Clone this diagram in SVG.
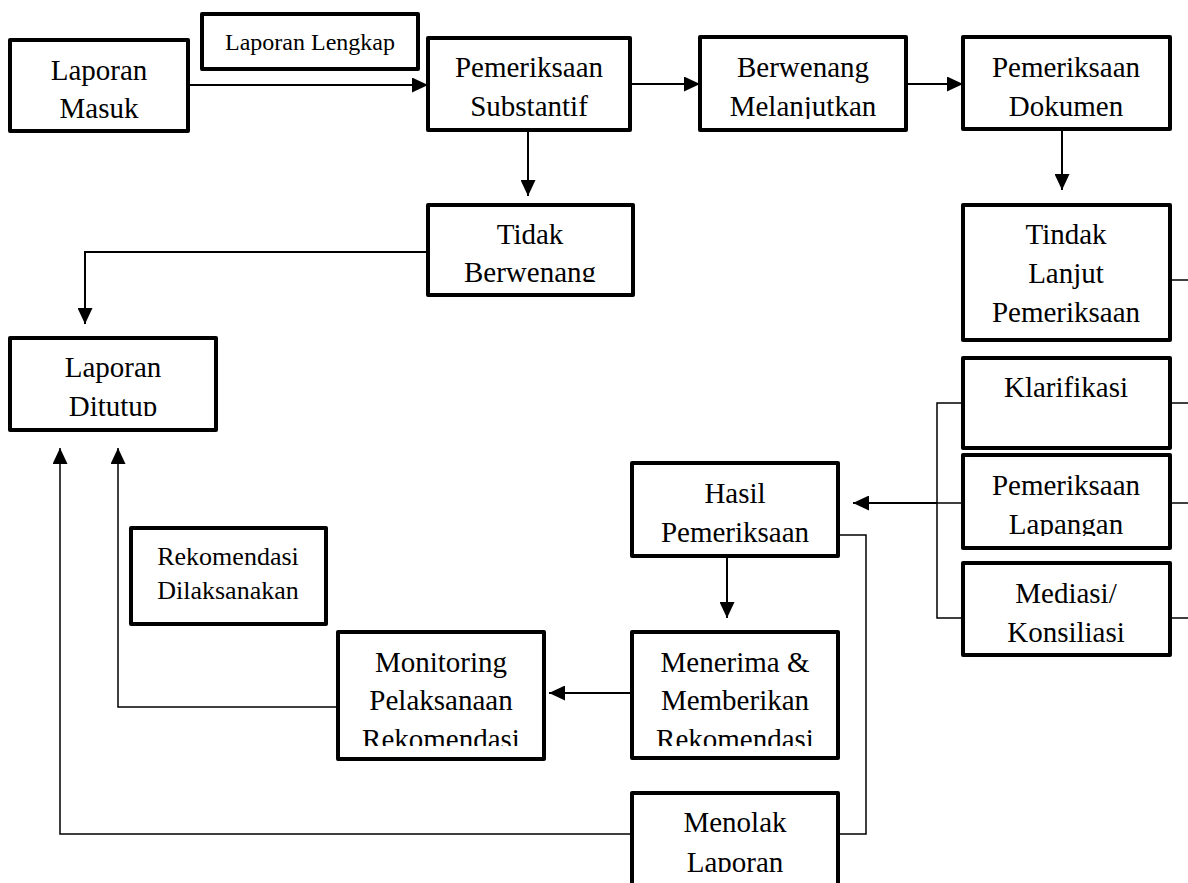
<svg xmlns="http://www.w3.org/2000/svg" width="1188" height="883" viewBox="0 0 1188 883">
<style>
.box{fill:#fff;stroke:#000;stroke-width:4;stroke-linejoin:round}
.t{font-family:"Liberation Serif","Times New Roman",serif;font-size:29px;fill:#000;text-anchor:middle}
.s{font-size:24px}
.r{font-size:26px}
.ln{fill:none;stroke:#000;stroke-width:2}
.th{fill:none;stroke:#000;stroke-width:1.5}
</style>
<defs>
<marker id="ah" markerUnits="userSpaceOnUse" markerWidth="16" markerHeight="15" refX="16" refY="7.5" orient="auto">
<path d="M0,0 L16,7.5 L0,15 z" fill="#000"/>
</marker>
<clipPath id="cBer"><rect x="700" y="37" width="206" height="82"/></clipPath>
<clipPath id="cTid"><rect x="428" y="205" width="205" height="77"/></clipPath>
<clipPath id="cDit"><rect x="10" y="338" width="206" height="78"/></clipPath>
<clipPath id="cLap"><rect x="963" y="455" width="207" height="81"/></clipPath>
<clipPath id="cMen"><rect x="632" y="632" width="206" height="114"/></clipPath>
<clipPath id="cMon"><rect x="338" y="632" width="206" height="114"/></clipPath>
<clipPath id="cTol"><rect x="632" y="793" width="206" height="79"/></clipPath>
</defs>

<g id="connectors">
<path class="ln" d="M188,85 H428" marker-end="url(#ah)"/>
<path class="ln" d="M630,84 H700" marker-end="url(#ah)"/>
<path class="ln" d="M906,84 H963" marker-end="url(#ah)"/>
<path class="ln" d="M528,130 V196" marker-end="url(#ah)"/>
<path class="ln" d="M1062,129 V190" marker-end="url(#ah)"/>
<path class="ln" d="M428,252 H85 V324" marker-end="url(#ah)"/>
<path class="th" d="M1170,280 H1188 M1170,403 H1188 M1170,503 H1188 M1170,618 H1188"/>
<path class="th" d="M963,403 H937 V618 H963 M937,503 H963"/>
<path class="ln" d="M937,503 H853" marker-end="url(#ah)"/>
<path class="ln" d="M727,556 V618" marker-end="url(#ah)"/>
<path class="th" d="M838,535 H866 V834 H838"/>
<path class="ln" d="M632,693 H549" marker-end="url(#ah)"/>
<path class="th" d="M338,707 H118 V448" marker-end="url(#ah)"/>
<path class="th" d="M632,834 H60 V448" marker-end="url(#ah)"/>
</g>

<g id="laporan-masuk">
<rect class="box" x="10" y="40" width="178" height="91"/>
<text class="t" x="99" y="80">Laporan</text>
<text class="t" x="99" y="118">Masuk</text>
</g>
<g id="laporan-lengkap">
<rect class="box" x="202" y="14" width="216" height="55"/>
<text class="t s" x="310" y="50">Laporan Lengkap</text>
</g>
<g id="pemeriksaan-substantif">
<rect class="box" x="428" y="38" width="202" height="92"/>
<text class="t" x="529" y="77">Pemeriksaan</text>
<text class="t" x="529" y="116">Substantif</text>
</g>
<g id="berwenang-melanjutkan">
<rect class="box" x="700" y="37" width="206" height="93"/>
<g clip-path="url(#cBer)">
<text class="t" x="803" y="77">Berwenang</text>
<text class="t" x="803" y="116">Melanjutkan</text>
</g>
</g>
<g id="pemeriksaan-dokumen">
<rect class="box" x="963" y="37" width="207" height="92"/>
<text class="t" x="1066" y="77">Pemeriksaan</text>
<text class="t" x="1066" y="116">Dokumen</text>
</g>
<g id="tidak-berwenang">
<rect class="box" x="428" y="205" width="205" height="90"/>
<g clip-path="url(#cTid)">
<text class="t" x="530" y="244">Tidak</text>
<text class="t" x="530" y="282">Berwenang</text>
</g>
</g>
<g id="tindak-lanjut">
<rect class="box" x="963" y="205" width="207" height="135"/>
<text class="t" x="1066" y="244">Tindak</text>
<text class="t" x="1066" y="283">Lanjut</text>
<text class="t" x="1066" y="322">Pemeriksaan</text>
</g>
<g id="laporan-ditutup">
<rect class="box" x="10" y="338" width="206" height="92"/>
<g clip-path="url(#cDit)">
<text class="t" x="113" y="377">Laporan</text>
<text class="t" x="113" y="416">Ditutup</text>
</g>
</g>
<g id="klarifikasi">
<rect class="box" x="963" y="358" width="207" height="90"/>
<text class="t" x="1066" y="397">Klarifikasi</text>
</g>
<g id="pemeriksaan-lapangan">
<rect class="box" x="963" y="455" width="207" height="93"/>
<g clip-path="url(#cLap)">
<text class="t" x="1066" y="495">Pemeriksaan</text>
<text class="t" x="1066" y="534">Lapangan</text>
</g>
</g>
<g id="mediasi">
<rect class="box" x="963" y="563" width="207" height="92"/>
<text class="t" x="1066" y="603">Mediasi/</text>
<text class="t" x="1066" y="642">Konsiliasi</text>
</g>
<g id="hasil-pemeriksaan">
<rect class="box" x="632" y="463" width="206" height="93"/>
<text class="t" x="735" y="503">Hasil</text>
<text class="t" x="735" y="542">Pemeriksaan</text>
</g>
<g id="rekomendasi-dilaksanakan">
<rect class="box" x="131" y="528" width="195" height="96"/>
<text class="t r" x="228" y="565">Rekomendasi</text>
<text class="t r" x="228" y="599">Dilaksanakan</text>
</g>
<g id="monitoring">
<rect class="box" x="338" y="632" width="206" height="127"/>
<g clip-path="url(#cMon)">
<text class="t" x="441" y="672">Monitoring</text>
<text class="t" x="441" y="710">Pelaksanaan</text>
<text class="t" x="441" y="749">Rekomendasi</text>
</g>
</g>
<g id="menerima">
<rect class="box" x="632" y="632" width="206" height="126"/>
<g clip-path="url(#cMen)">
<text class="t" x="735" y="672">Menerima &amp;</text>
<text class="t" x="735" y="710">Memberikan</text>
<text class="t" x="735" y="749">Rekomendasi</text>
</g>
</g>
<g id="menolak-laporan">
<rect class="box" x="632" y="793" width="206" height="100"/>
<g clip-path="url(#cTol)">
<text class="t" x="735" y="832">Menolak</text>
<text class="t" x="735" y="872">Laporan</text>
</g>
</g>
</svg>
